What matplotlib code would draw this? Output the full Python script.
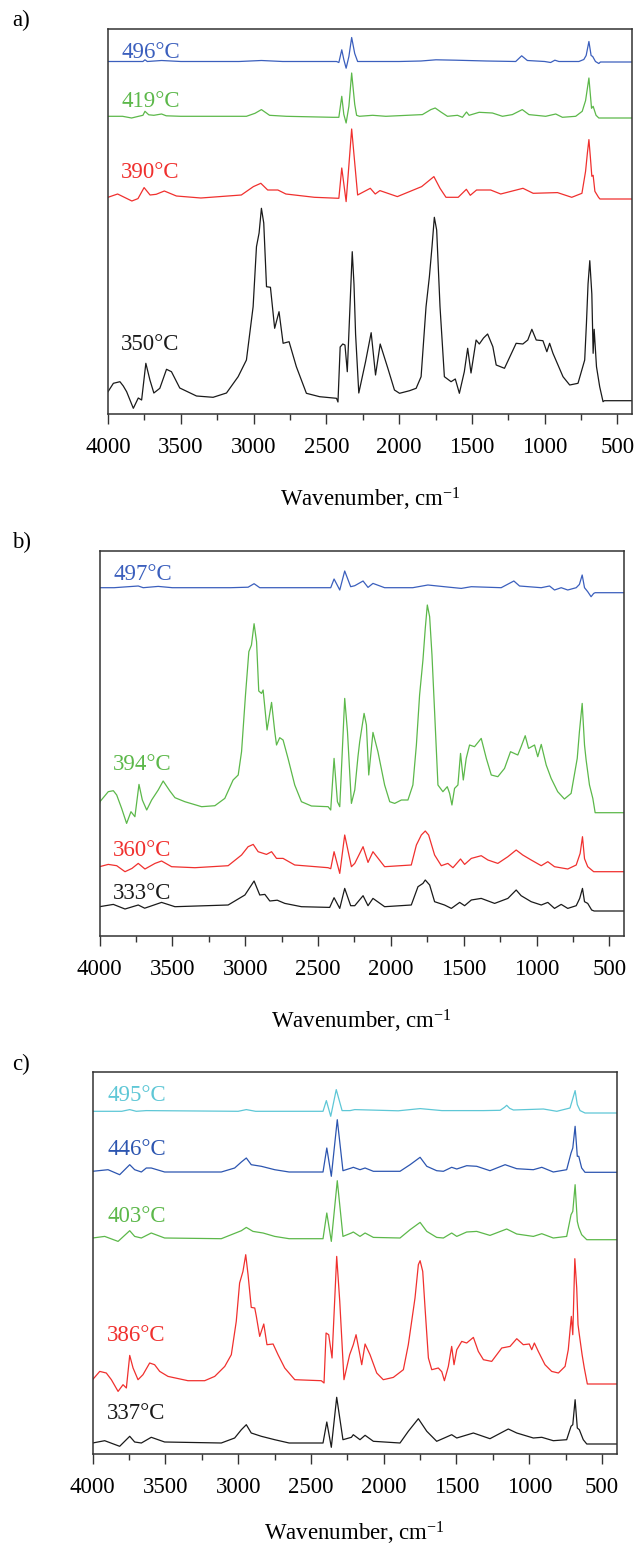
import matplotlib
matplotlib.use("Agg")
import matplotlib.pyplot as plt
from matplotlib.ticker import MultipleLocator
import numpy as np

plt.rcParams['font.family'] = ['Liberation Serif', 'DejaVu Serif']
plt.rcParams['mathtext.fontset'] = 'custom'
plt.rcParams['mathtext.rm'] = 'Liberation Serif'
plt.rcParams['mathtext.it'] = 'Liberation Serif:italic'

# ---------------- panel a ----------------
wn_a_496 = [4000, 3850, 3760, 3746, 3730, 3632, 3500, 3100, 2946, 2800, 2430, 2414, 2394, 2380, 2364, 2345,
            2326, 2305, 2285, 2273, 2000, 1850, 1747, 1610, 1400, 1199, 1158, 1119, 1000, 959, 930, 902,
            765, 731, 715, 696, 681, 670, 651, 628, 617, 400]
ab_a_496 = [0, 0, 0, 1.7, 0, 1, 0, 0, 1, 0, 0, -1, 11.7, 2, -6.7, 5,
            24, 8, 0, 0, 0, 0.5, 1.7, 1.3, 0.5, 0, 5.7, 1, 0, -1, 1.3, 0,
            0, 2, 6, 20, 6, 5, 0, -2, -0.5, -0.5]

wn_a_419 = [4000, 3900, 3838, 3790, 3760, 3746, 3720, 3685, 3632, 3600, 3500, 3300, 3049, 2990, 2946, 2890,
            2775, 2456, 2414, 2394, 2380, 2364, 2345, 2326, 2305, 2292, 2273, 2182, 2091, 1840, 1782, 1752,
            1713, 1668, 1599, 1565, 1537, 1519, 1450, 1359, 1290, 1222, 1154, 1108, 993, 924, 878, 787,
            742, 719, 696, 678, 667, 647, 628, 400]
ab_a_419 = [0, 0, -1.7, 0, 1, 5, 1.5, 1, 2.3, 0.5, 0, 0, 0, 3, 6.7, 1,
            0, -1, -1, 20, 2, -6.7, 10, 43.3, 12, 1, 0, 1, 0, 1.7, 6.7, 8.3,
            4.3, 0, 1, -1, 4.3, 1, 4, 3.3, 0, 1.7, 6.7, 1.7, 0, 2.3, -1, 0,
            5, 15.7, 38.3, 8, 10, 1, -1.7, -1.7]

wn_a_390 = [4000, 3934, 3836, 3794, 3752, 3711, 3669, 3613, 3530, 3362, 3084, 3001, 2950, 2903, 2833, 2778,
            2582, 2414, 2394, 2364, 2326, 2285, 2198, 2164, 2132, 2012, 1845, 1761, 1719, 1678, 1594, 1538,
            1511, 1468, 1371, 1302, 1149, 1079, 912, 814, 744, 719, 706, 696, 686, 676, 667, 655, 630, 620, 400]
ab_a_390 = [0, 3.3, -3.7, -1.3, 9.7, 2.3, 3, 6.3, 1.3, -0.7, 2.3, 10.7, 14, 7.3, 7.3, 3.3,
            0, -1, 29.3, -4.3, 68.3, 2.3, 9, 3.3, 6.7, 0.7, 10.7, 20.7, 9, 0, 0, 8,
            2, 7.3, 7.3, 3.3, 9, 4, 4.7, 0, 4, 26, 45, 57.7, 40, 21, 22, 6, 0, -1.7, -1.7]

wn_a_350 = [4000, 3963, 3918, 3895, 3872, 3826, 3792, 3769, 3740, 3712, 3685, 3644, 3598, 3564, 3507, 3392,
            3278, 3186, 3106, 3049, 3003, 2980, 2962, 2946, 2930, 2911, 2884, 2855, 2825, 2797, 2756, 2706,
            2637, 2546, 2430, 2420, 2405, 2387, 2372, 2356, 2322, 2310, 2299, 2277, 2231, 2192, 2162, 2130,
            2078, 2032, 1997, 1928, 1883, 1849, 1815, 1792, 1774, 1758, 1742, 1719, 1689, 1643, 1614, 1586,
            1552, 1529, 1506, 1471, 1449, 1420, 1392, 1356, 1333, 1276, 1196, 1150, 1116, 1088, 1058, 1012,
            985, 966, 943, 874, 828, 771, 725, 713, 702, 690, 676, 667, 660, 644, 622, 599, 590, 400]
ab_a_350 = [5.6, 14, 15.6, 11.3, 5.6, -11, -0.7, -2.7, 34, 17.3, 4.3, 9, 28, 25.6, 9.3, 1.3,
            0, 4.3, 20.6, 37.3, 90.6, 150.6, 164.3, 189, 174.3, 110.6, 110, 69, 85.6, 54, 55.6, 30.6,
            4, 0.6, -1, -4.7, 50.3, 53.3, 52.3, 25.6, 145.6, 113, 63, 4.3, 35.3, 64.6, 22.3, 53.3,
            29.3, 7.3, 4, 6.6, 9, 20.6, 90.6, 120.6, 150.6, 180, 167.3, 90.6, 20.6, 15.6, 18.3, 4,
            25.6, 49, 24.3, 57.3, 53.3, 59.3, 63.3, 50.6, 32.3, 29, 54, 53.3, 57.3, 68, 57.3, 56.6,
            45.6, 54, 44, 20.6, 12.3, 14, 37.3, 74, 113.3, 136.6, 103.3, 44, 68, 30.6, 10.6, -4.4, -3.4, -3.4]

# ---------------- panel b ----------------
wn_b_497 = [4000, 3900, 3734, 3700, 3597, 3500, 3100, 2980, 2939, 2900, 2430, 2413, 2390, 2351, 2317, 2276,
            2248, 2191, 2157, 2123, 2043, 1850, 1746, 1600, 1517, 1448, 1243, 1156, 1117, 968, 911, 877,
            831, 786, 728, 706, 687, 671, 649, 626, 608, 598, 400]
ab_b_497 = [0, 0, 1.7, 0, 1.3, 0, 0, 0.5, 4, 0, 0, 0, 8.7, -2.3, 16.7, 1,
            2, 6.7, 0.3, 4.3, 0, 0, 2.7, 0.5, -0.7, 1, 0, 6.7, 1.7, 0, 1.7, -2.3,
            0, -2.3, 0, 3.3, 12.7, 0, -4, -9, -5.7, -5, -5]

wn_b_394 = [4000, 3997, 3940, 3905, 3882, 3848, 3814, 3784, 3757, 3729, 3706, 3676, 3642, 3597, 3563, 3517,
            3482, 3414, 3299, 3208, 3140, 3083, 3048, 3025, 2998, 2975, 2957, 2939, 2922, 2907, 2888, 2877,
            2850, 2819, 2797, 2785, 2763, 2740, 2706, 2660, 2614, 2545, 2431, 2413, 2390, 2367, 2351, 2317,
            2298, 2271, 2248, 2226, 2214, 2184, 2168, 2152, 2123, 2089, 2043, 2008, 1974, 1928, 1883, 1849,
            1825, 1803, 1780, 1764, 1750, 1734, 1718, 1700, 1677, 1643, 1613, 1597, 1581, 1563, 1540, 1522,
            1503, 1483, 1460, 1426, 1380, 1345, 1311, 1266, 1220, 1179, 1129, 1106, 1078, 1055, 1014, 992,
            968, 934, 900, 855, 809, 763, 721, 706, 687, 671, 660, 637, 614, 598, 400]
ab_b_394 = [3, 5, 15, 16, 11.7, -1.7, -16.7, -5, -10, 22.3, 6.7, -3.3, 6.7, 16.7, 25.7, 15.7,
            9, 5, 0, 1, 8.3, 26.7, 31.7, 55, 111.7, 155, 161.7, 183, 165, 115.7, 113.3, 116.7,
            76.7, 104.3, 75, 61.7, 69, 66.7, 48.3, 21.7, 5, 0.7, 0, -3.3, 48.3, 5, 0, 108.3,
            75, 3.3, 16.7, 50, 65, 93.3, 81.7, 31.7, 74.3, 55, 21.7, 5, 3.3, 6.7, 6.7, 21.7,
            61.7, 111.7, 146.7, 178.3, 201.7, 190, 151.7, 95, 21.7, 15, 20, 13.3, 1.7, 18.3, 21.7, 53.3,
            26.7, 48.3, 61.7, 60, 68.3, 48.3, 31.7, 30, 38.3, 55, 51.7, 60, 71, 58.3, 61.7, 50,
            62.3, 41.7, 28.3, 15, 7.7, 13.3, 48.3, 75, 103.3, 61.7, 46.7, 21.7, 8.3, -6, -6]

wn_b_360 = [4000, 3940, 3882, 3825, 3777, 3734, 3688, 3619, 3574, 3505, 3345, 3117, 3025, 2980, 2945, 2911,
            2854, 2819, 2785, 2740, 2660, 2431, 2413, 2390, 2351, 2317, 2271, 2248, 2191, 2157, 2123, 2043,
            1860, 1825, 1791, 1764, 1741, 1700, 1654, 1609, 1574, 1522, 1494, 1448, 1380, 1334, 1266, 1197,
            1140, 1095, 1037, 968, 923, 877, 786, 728, 701, 685, 671, 649, 622, 608, 400]
ab_b_360 = [0, 2.3, 1, -5, -1.7, 3.3, -2.3, 3.3, 5.7, 0, -1, 1, 11.7, 20, 22.3, 15,
            12.3, 15, 8.3, 8.3, 1.7, -1, -2, 15, -6.7, 31.7, 0, 3.3, 20, 4.3, 15, 0,
            1.7, 21.7, 31.7, 35.7, 31.7, 11.7, 1, 3.3, -1, 7.7, 2.3, 8.3, 11, 6.7, 3.3, 10,
            16.7, 11.7, 6.7, 1, 5, 0, -2.3, 1.7, 13.3, 30, 8, 0, -3.3, -5, -5]

wn_b_333 = [4000, 3905, 3825, 3734, 3690, 3574, 3482, 3117, 3002, 2939, 2900, 2865, 2831, 2780, 2728, 2614,
            2420, 2390, 2351, 2317, 2276, 2248, 2191, 2157, 2123, 2043, 1860, 1814, 1780, 1764, 1734, 1700,
            1632, 1585, 1528, 1494, 1448, 1380, 1288, 1197, 1140, 1106, 1037, 968, 923, 877, 831, 786,
            728, 704, 685, 671, 649, 622, 605, 400]
ab_b_333 = [0, 2.3, -2.3, 1.7, -1.5, 4.3, 0, 1.7, 11.7, 25.7, 11.7, 12.3, 5.7, 6.5, 3.3, 0,
            -0.7, 9, -1.7, 18.3, 1, 1, 11, 1, 8.3, 0, 1.7, 20, 23.3, 26.7, 21.7, 5,
            1.7, -1.7, 4.3, 1, 6.7, 8.3, 3.3, 8.3, 16.7, 11, 5, 1.7, 4.3, -1.7, 2.3, -1.7,
            1, 8.3, 18.3, 5, 3.3, -3.3, -4.3, -4.3]

# ---------------- panel c ----------------
wn_c_495 = [4000, 3800, 3745, 3700, 3631, 3000, 2944, 2880, 2417, 2394, 2364, 2326, 2286, 2231, 2199, 1900,
            1750, 1600, 1315, 1200, 1170, 1155, 1135, 1109, 903, 811, 720, 703, 685, 670, 651, 617, 400]
ab_c_495 = [0, 0, 1.7, 0, 0.7, 0, 1.7, 0, 0, 10.7, -5, 21.7, 0.7, 0.7, 1.7, 0.5,
            2.7, 0.7, 0.7, 1, 4, 6, 3, 1.3, 2.3, 0, 3.3, 11.7, 20.7, 6.7, 0.7, -1.7, -1.7]

wn_c_446 = [4000, 3894, 3814, 3745, 3711, 3665, 3631, 3597, 3505, 3116, 3024, 2978, 2944, 2910, 2841, 2749,
            2650, 2417, 2391, 2360, 2319, 2280, 2222, 2209, 2163, 2128, 2071, 1888, 1819, 1750, 1704, 1636,
            1590, 1533, 1498, 1430, 1361, 1270, 1166, 1086, 972, 914, 835, 743, 713, 701, 685, 670,
            660, 640, 617, 400]
ab_c_446 = [0.7, 2.3, -2.7, 7.3, 2.3, 0, 4, 4, 0, 0, 4, 10, 14, 7.3, 5.7, 2.3,
            0, 0, 24, -4.3, 52.3, 1.3, 4, 4.7, 2.3, 4, 0.7, 0.7, 7.3, 14.7, 5.7, 1.3,
            0.7, 4.7, 3, 6.3, 5.7, 1.3, 7.3, 3.3, 2.3, 4.7, 0, 2.3, 19, 24, 45.7, 15.7,
            15.7, 4, -0.3, -0.3]

wn_c_403 = [4000, 3917, 3825, 3745, 3711, 3665, 3597, 3505, 3116, 2978, 2944, 2898, 2829, 2749, 2650, 2417,
            2391, 2360, 2319, 2280, 2222, 2209, 2163, 2128, 2071, 1888, 1819, 1750, 1704, 1636, 1590, 1533,
            1498, 1430, 1361, 1270, 1155, 1086, 972, 914, 835, 743, 713, 701, 685, 670, 660, 640,
            605, 400]
ab_c_403 = [0.7, 2.3, -2.7, 8, 2.3, 0.7, 5.7, 0.7, 0, 8, 11.3, 7.3, 5.7, 2.3, 0, 0,
            25.7, -2.7, 58, 2.3, 5.7, 6.7, 2.3, 5.7, 1.3, 0.7, 9, 16.3, 7.3, 1.3, 0.7, 5.7,
            2.3, 6.7, 7.3, 3.3, 9.7, 4.7, 2.3, 5, 0.7, 2.3, 24, 27.3, 54, 17.3, 11.3, 4,
            -1, -1]

wn_c_386 = [4000, 3951, 3906, 3871, 3825, 3791, 3768, 3745, 3722, 3688, 3654, 3608, 3574, 3539, 3482, 3345,
            3230, 3161, 3092, 3047, 3013, 2990, 2967, 2948, 2932, 2910, 2886, 2875, 2852, 2824, 2802, 2760,
            2726, 2680, 2611, 2429, 2410, 2396, 2378, 2355, 2323, 2302, 2273, 2234, 2209, 2190, 2168, 2151,
            2128, 2094, 2048, 2003, 1934, 1865, 1831, 1808, 1785, 1762, 1750, 1732, 1716, 1693, 1670, 1625,
            1601, 1583, 1556, 1533, 1517, 1498, 1464, 1430, 1384, 1350, 1315, 1258, 1189, 1132, 1086, 1041,
            1000, 983, 965, 938, 892, 846, 800, 754, 732, 711, 701, 687, 674, 665, 656, 637,
            622, 601, 400]
ab_c_386 = [1, 9.3, 7.7, 1, -10.7, -4, -7.3, 25.3, 12.7, 1, 6, 17.7, 16, 9.3, 4.3, 0,
            0, 4.3, 14.3, 26, 59.3, 97.7, 109.3, 126, 106, 73.3, 72.7, 64.3, 44.3, 56.7, 36, 36.7,
            26, 12.7, 1, 0, -2.3, 47.7, 46, 22.7, 124.3, 79.3, 1, 26, 36, 46, 29.3, 16,
            36.7, 26, 7.7, 1, 3.3, 11, 36, 59.3, 82.7, 116, 120, 109.3, 72.7, 22.7, 11, 12.7,
            9, 0, 14.3, 34.3, 16, 31, 39.3, 37.7, 43.3, 29.3, 21, 19.3, 32.7, 34.3, 42, 36,
            36.7, 31, 37.7, 29.3, 16, 9.3, 7.7, 14.3, 31, 64.3, 46, 122, 92.7, 56, 46, 26,
            12.7, -3.3, -3.3]

wn_c_337 = [4000, 3917, 3814, 3745, 3711, 3665, 3597, 3505, 3116, 3024, 2978, 2944, 2910, 2841, 2749, 2650,
            2417, 2391, 2360, 2323, 2280, 2222, 2209, 2163, 2128, 2071, 1888, 1831, 1762, 1704, 1636, 1584,
            1533, 1498, 1384, 1270, 1144, 1086, 972, 914, 835, 743, 713, 701, 685, 670, 656, 629,
            605, 400]
ab_c_337 = [0, 2.3, -3.3, 6.7, 1, 0, 5.7, 1, 0, 5, 13.3, 18.3, 10, 6.7, 3.3, 0,
            0, 21, -4.3, 45.7, 3.3, 5.7, 8.3, 3.3, 7.7, 1.7, 0, 11.7, 24.3, 11.7, 1.7, 5,
            8.3, 5, 10, 4.3, 14, 10, 5, 5.7, 2.3, 3.3, 16.7, 18.3, 43.3, 15, 13.3, 3.3,
            -1, -1]

# ---------------- stacking, labels and colours ----------------
BLUE = '#3b5fbd'
GREEN = '#5cb84a'
RED = '#f0302e'
BLACK = '#1a1a1a'
CYAN = '#5ec7d6'

panels = [
    dict(tag='a)', rect=(108, 29, 632, 414), label_x=121, xlabelpad=20,
         traces=[(wn_a_496, ab_a_496, 352.5, BLUE, '496°C', 58.3),
                 (wn_a_419, ab_a_419, 297.7, GREEN, '419°C', 107.0),
                 (wn_a_390, ab_a_390, 216.7, RED, '390°C', 178.0),
                 (wn_a_350, ab_a_350, 16.7, BLACK, '350°C', 350.0)],
         tag_y=20),
    dict(tag='b)', rect=(99.5, 551, 624, 936), label_x=113, xlabelpad=20,
         traces=[(wn_b_497, ab_b_497, 348.3, BLUE, '497°C', 580.0),
                 (wn_b_394, ab_b_394, 129.3, GREEN, '394°C', 770.0),
                 (wn_b_360, ab_b_360, 69.3, RED, '360°C', 856.0),
                 (wn_b_333, ab_b_333, 29.3, BLACK, '333°C', 899.0)],
         tag_y=542),
    dict(tag='c)', rect=(92.6, 1072, 616.6, 1454), label_x=107, xlabelpad=16,
         traces=[(wn_c_495, ab_c_495, 342.7, CYAN, '495°C', 1101.0),
                 (wn_c_446, ab_c_446, 282.0, '#2c55b0', '446°C', 1155.0),
                 (wn_c_403, ab_c_403, 215.3, GREEN, '403°C', 1222.0),
                 (wn_c_386, ab_c_386, 73.3, RED, '386°C', 1341.0),
                 (wn_c_337, ab_c_337, 11.0, BLACK, '337°C', 1419.0)],
         tag_y=1064),
]

W, H = 634, 1548
fig = plt.figure(figsize=(W / 100, H / 100), dpi=100)

FS = 16.5
for p in panels:
    x0, y0, x1, y1 = p['rect']
    ax = fig.add_axes([x0 / W, 1 - y1 / H, (x1 - x0) / W, (y1 - y0) / H])
    for wn, ab, base, col, lab, ty in p['traces']:
        ax.plot(np.asarray(wn), np.asarray(ab) + base, color=col, lw=0.9)
        fig.text(p['label_x'] / W, 1 - ty / H, lab, color=col, fontsize=FS,
                 ha='left', va='baseline')
    ax.set_xlim(4000, 400)
    ax.set_ylim(0, y1 - y0)
    ax.xaxis.set_major_locator(MultipleLocator(500))
    ax.xaxis.set_minor_locator(MultipleLocator(250))
    ax.set_yticks([])
    ax.tick_params(axis='x', which='major', direction='out', length=7.5, width=1.0,
                   color='#333333', labelsize=FS, pad=9)
    ax.tick_params(axis='x', which='minor', direction='out', length=4, width=1.0,
                   color='#333333')
    for s in ax.spines.values():
        s.set_linewidth(1.1)
        s.set_color('#333333')
    ax.set_xlabel('Wavenumber, cm$^{-1}$', fontsize=FS, labelpad=p['xlabelpad'])
    fig.text(12 / W, 1 - p['tag_y'] / H, p['tag'], fontsize=FS, ha='left', va='center')

fig.savefig('out.png', dpi=100)
